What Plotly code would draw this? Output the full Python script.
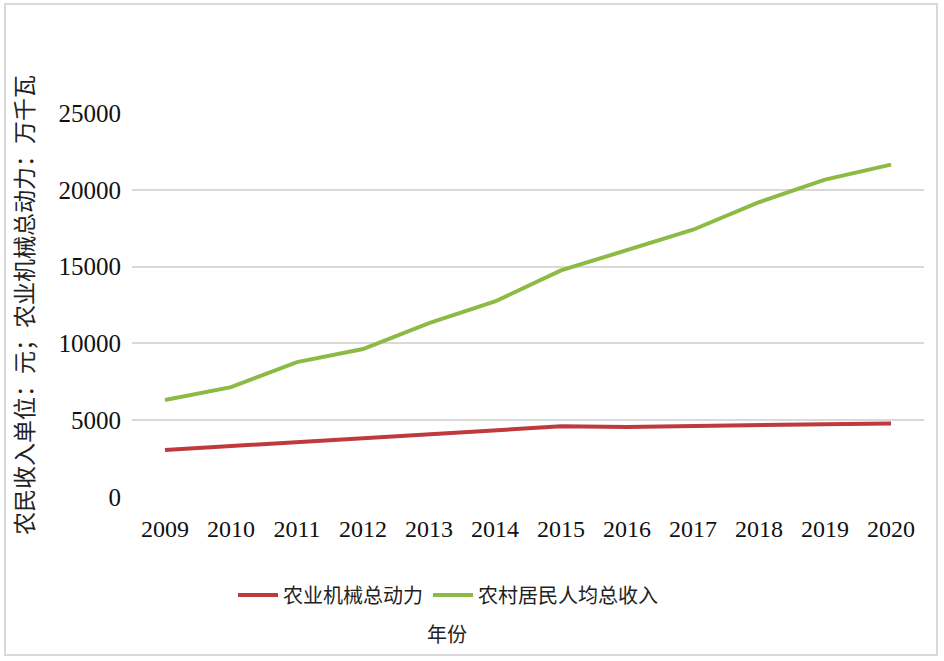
import plotly.graph_objects as go

years = ["2009", "2010", "2011", "2012", "2013", "2014", "2015", "2016", "2017", "2018", "2019", "2020"]
machinery_power = [3060, 3320, 3540, 3820, 4090, 4300, 4600, 4560, 4640, 4700, 4740, 4780]
rural_income = [6320, 7150, 8780, 9630, 11320, 12730, 14750, 16100, 17400, 19190, 20660, 21640]
y_ticks = [0, 5000, 10000, 15000, 20000, 25000]
y_tick_text = ["0", "5000", "10000", "15000", "20000", "25000"]

fig = go.Figure()
fig.add_trace(go.Scatter(x=years, y=machinery_power, mode="lines", name="农业机械总动力",
                         line=dict(color="#C0393D", width=4)))
fig.add_trace(go.Scatter(x=years, y=rural_income, mode="lines", name="农村居民人均总收入",
                         line=dict(color="#8DBA45", width=4)))

W, H = 944, 661
L, R, T, B = 132, 20, 113, 164
pw, ph = W - L - R, H - T - B

def px(x):
    return (x - L) / pw

def py(y):
    return (H - B - y) / ph

fig.add_shape(type="rect", xref="paper", yref="paper",
              x0=px(5), x1=px(937), y0=py(655), y1=py(4),
              line=dict(color="#D9D9D9", width=2), fillcolor="rgba(0,0,0,0)", layer="below")

fig.add_annotation(text="年份", xref="paper", yref="paper", x=px(447), y=py(633),
                   showarrow=False, xanchor="center", yanchor="middle",
                   font=dict(family="Noto Sans CJK SC", size=20, color="#222222"))

fig.update_layout(
    width=W, height=H,
    margin=dict(l=L, r=R, t=T, b=B),
    plot_bgcolor="white", paper_bgcolor="white",
    showlegend=True,
    legend=dict(orientation="h", x=px(448), xanchor="center", y=py(595), yanchor="middle",
                font=dict(family="Noto Sans CJK SC", size=20, color="#222222"),
                itemwidth=40, tracegroupgap=0),
    xaxis=dict(type="category", showgrid=False, showline=False, zeroline=False,
               ticks="", tickfont=dict(family="Liberation Serif", size=24, color="#111111"),
               ticklabelstandoff=15, range=[-0.5, 11.5]),
    yaxis=dict(range=[0, 25000], tickvals=y_ticks, ticktext=y_tick_text,
               showgrid=True, gridcolor="#D9D9D9",
               gridwidth=2, zeroline=False, showline=False, ticks="",
               tickfont=dict(family="Liberation Serif", size=25, color="#111111"),
               ticklabelstandoff=10,
               title=dict(text="农民收入单位：元；农业机械总动力：万千瓦",
                          font=dict(family="Noto Sans CJK SC", size=23, color="#222222"),
                          standoff=18)),
)

fig.write_html("out.html", config={"displayModeBar": False},
               post_script="document.body.style.margin='0px';")
